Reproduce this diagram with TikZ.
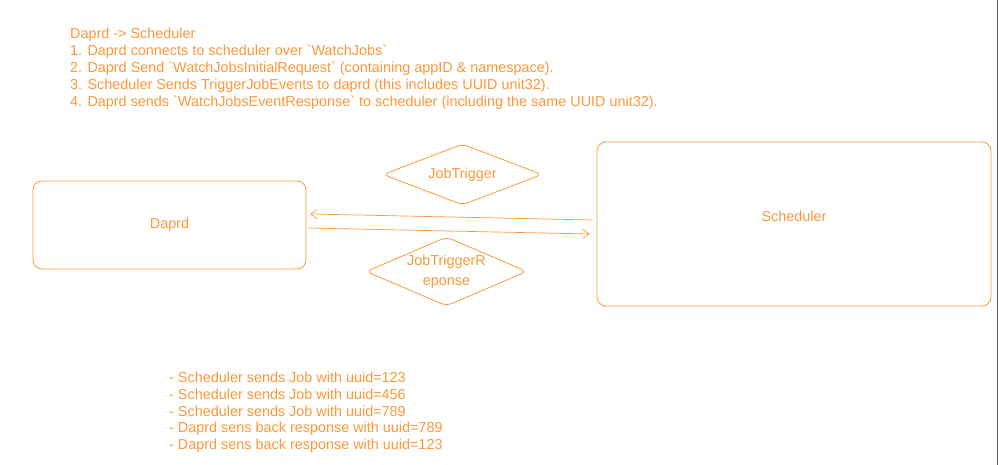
\documentclass[tikz,border=0pt]{standalone}
\usepackage{fontspec}
\setmainfont{Liberation Sans}
\usepackage{xcolor}
\usetikzlibrary{arrows.meta, shapes.geometric, calc, positioning}
\definecolor{exorange}{HTML}{FD973A}
\definecolor{edgegray}{HTML}{5A5A5A}
\newcommand{\bq}{\textasciigrave}
\tikzset{
  % Graph arrow style
  garr/.style={
    draw=exorange
    , line width = 0.7pt
    , -{Straight Barb[length=6pt, width=9pt]}
  },
}
\tikzset{
  % service box style
  service/.style={
    draw=exorange
    , text=exorange
    , line width=0.8pt
    , rounded corners=9pt
    , anchor=center
    , align=center
    , font=\fontsize{14.4}{16.8}\selectfont
  },
  % message diamond style
  msg/.style={
    diamond
    , draw=exorange
    , text=exorange
    , line width=0.8pt
    , rounded corners=6pt
    , inner sep=0pt
    , align=center
    , font=\fontsize{14.4}{20}\selectfont
  },
  % free text style
  note/.style={
    text=exorange
    , anchor=north west
    , inner sep=0pt
    , align=left
    , font=\fontsize{14.4}{17}\selectfont
  },
}

\begin{document}
\begin{tikzpicture}[x=1pt, y=-1pt]
        \useasboundingbox (0,0) rectangle (999,465);
        \draw[edgegray, line width=1pt] (997.5,0) -- (997.5,465);

        \node[note] (steps) at (70,27.5)
          {Daprd -> Scheduler\\
           1. Daprd connects to scheduler over \bq WatchJobs\bq\\
           2. Daprd Send \bq WatchJobsInitialRequest\bq\ (containing appID \& namespace).\\
           3. Scheduler Sends TriggerJobEvents to daprd (this includes UUID unit32).\\
           4. Daprd sends \bq WatchJobsEventResponse\bq\ to scheduler (including the same UUID unit32).};

        \node[service, minimum width=273pt, minimum height=88pt] (daprd) at (169.5,225) {Daprd};
        \node[service, minimum width=394pt, minimum height=164pt,
              label={[text=exorange, font=\fontsize{14.4}{16.8}\selectfont, yshift=8pt]center:Scheduler}]
              (sched) at (794,224) {};

        \node[msg, aspect=2.6, minimum width=159pt, minimum height=61pt] (trig) at (462.5,174.5) {JobTrigger};
        \node[msg, aspect=2.33, minimum width=161pt, minimum height=69pt] (resp) at (446.5,271.5) {JobTriggerR\\eponse};

        \draw[garr]
          ([xshift=-4pt, yshift=4pt]sched.west)
          to
          ([xshift=4pt, yshift=11pt]daprd.east);
        \draw[garr]
          ([xshift=2pt, yshift=-3pt]daprd.east)
          to
          ([xshift=-7pt, yshift=-10pt]sched.west);

        \node[note, font=\fontsize{14.4}{16.75}\selectfont] (trace) at (169,372)
          {- Scheduler sends Job with uuid=123\\
           - Scheduler sends Job with uuid=456\\
           - Scheduler sends Job with uuid=789\\
           - Daprd sens back response with uuid=789\\
           - Daprd sens back response with uuid=123};
\end{tikzpicture}
\end{document}
